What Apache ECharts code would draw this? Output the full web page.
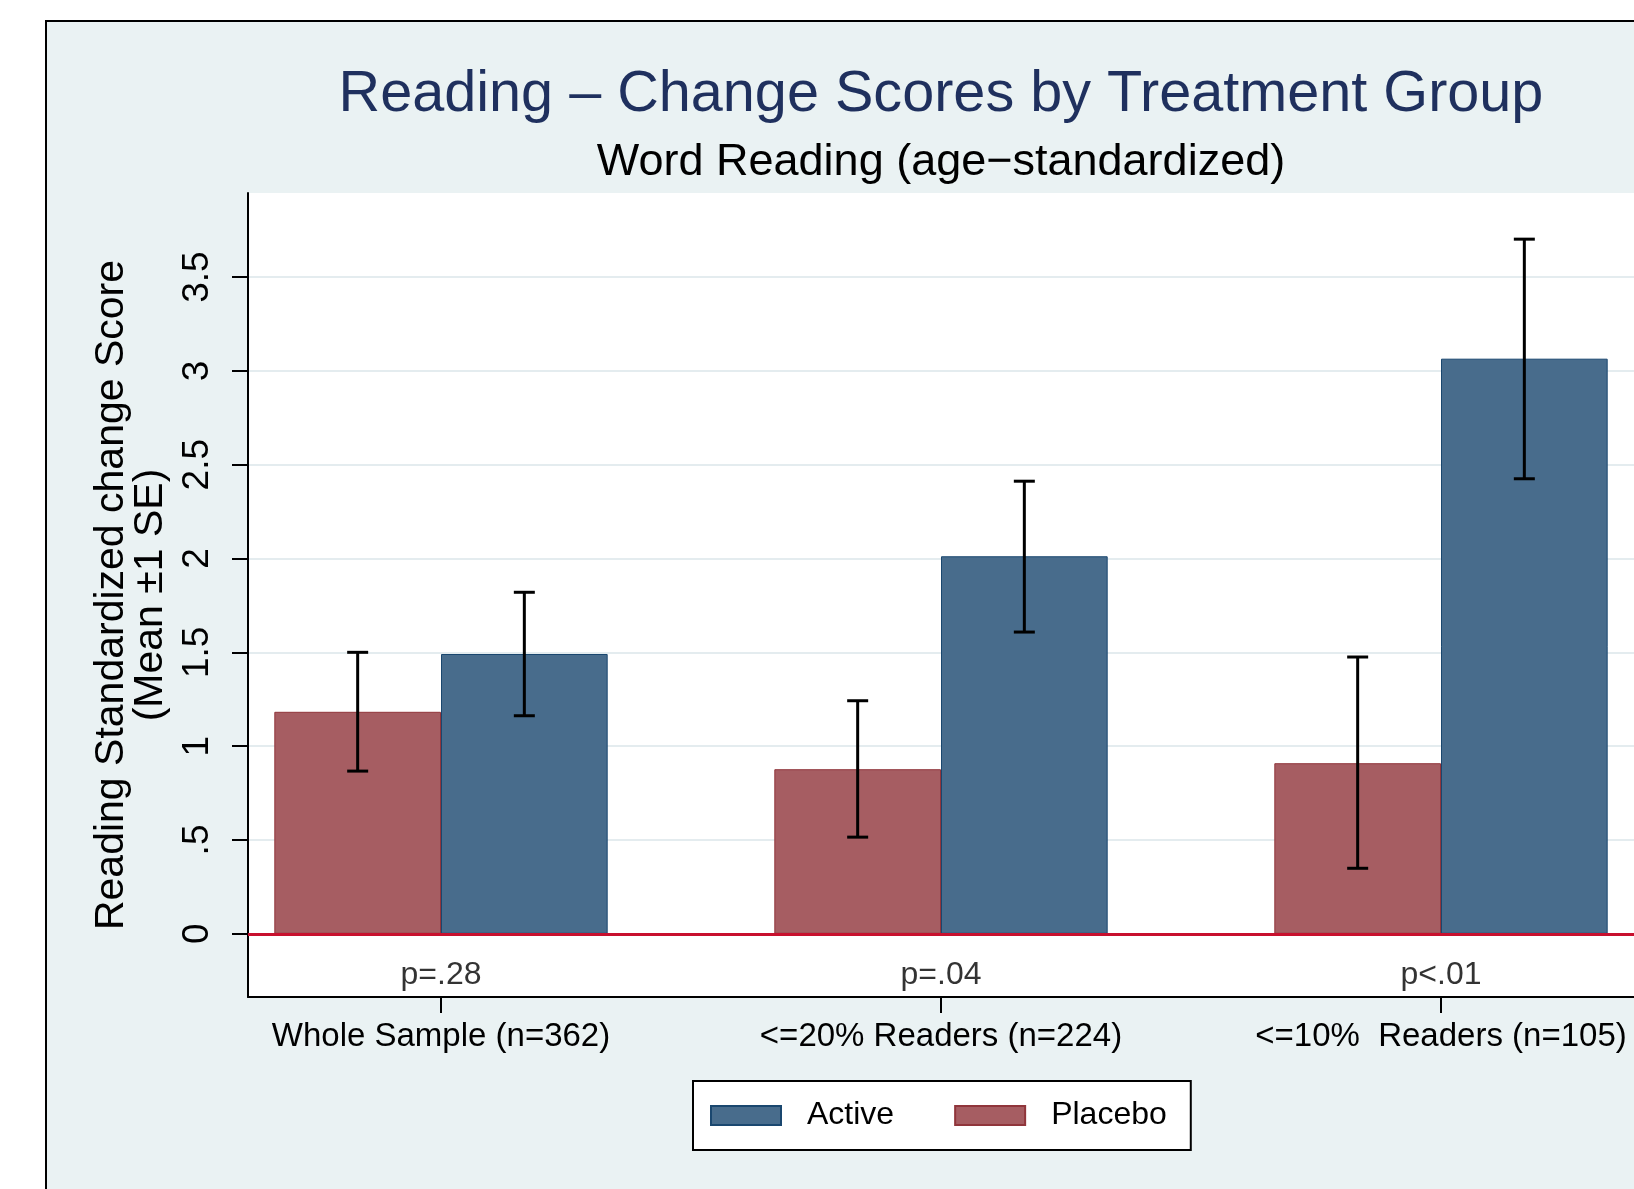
<!DOCTYPE html>
<html>
<head>
<meta charset="utf-8">
<title>Reading – Change Scores by Treatment Group</title>
<script src="https://cdn.jsdelivr.net/npm/echarts@6/dist/echarts.min.js"></script>
<style>
  html, body { margin: 0; padding: 0; background: #fff; }
  #chart { width: 1634px; height: 1189px; }
</style>
</head>
<body>
<div id="chart"></div>
<script>
// Chart data
const categories = ["Whole Sample (n=362)", "<=20% Readers (n=224)", "<=10%  Readers (n=105)"];
const pLabels = ["p=.28", "p=.04", "p<.01"];

const placeboMean = [1.183, 0.877, 0.909];
const placeboLow = [0.867, 0.515, 0.349];
const placeboHigh = [1.500, 1.242, 1.475];

const activeMean = [1.491, 2.012, 3.065];
const activeLow = [1.162, 1.608, 2.425];
const activeHigh = [1.820, 2.412, 3.702];

const yTicks = [0, 0.5, 1, 1.5, 2, 2.5, 3, 3.5];

// Layout / style constants
const FONT = "'Liberation Sans', Arial, Helvetica, sans-serif";
const ACTIVE_FILL = "#486c8c";
const ACTIVE_LINE = "#1a476f";
const PLACEBO_FILL = "#a65d62";
const PLACEBO_LINE = "#90353b";
const CATEGORY_GAP = 1 / 3;
const P_LABEL_Y = -0.22;

const chart = echarts.init(document.getElementById("chart"), null, { renderer: "canvas" });
const catIdx = categories.map((_, i) => i);

// I-shaped error bar, shifted onto the left (-1) or right (+1) bar of a group
function errorBar(side) {
  return function (params, api) {
    const x = api.value(0);
    const lo = api.coord([x, api.value(1)]);
    const hi = api.coord([x, api.value(2)]);
    const unit = api.size([1, 0])[0];
    const barW = (unit * (1 - CATEGORY_GAP)) / 2;
    const cx = lo[0] + (side * barW) / 2;
    const cap = 10.5;
    const style = { stroke: "#000", lineWidth: 3 };
    return {
      type: "group",
      children: [
        { type: "line", shape: { x1: cx, y1: lo[1], x2: cx, y2: hi[1] }, style },
        { type: "line", shape: { x1: cx - cap, y1: hi[1], x2: cx + cap, y2: hi[1] }, style },
        { type: "line", shape: { x1: cx - cap, y1: lo[1], x2: cx + cap, y2: lo[1] }, style },
      ],
    };
  };
}

const option = {
  animation: false,
  backgroundColor: "#ffffff",
  textStyle: { fontFamily: FONT },
  graphic: [
    {
      type: "rect",
      z: -5,
      shape: { x: 46, y: 21, width: 2000, height: 2000 },
      style: { fill: "#eaf2f3", stroke: "#000", lineWidth: 2 },
    },
    {
      type: "text",
      x: 941,
      y: 95,
      style: {
        text: "Reading – Change Scores by Treatment Group",
        font: "57.6px " + FONT,
        fill: "#1f305e",
        align: "center",
        verticalAlign: "middle",
      },
    },
    {
      type: "text",
      x: 941,
      y: 163,
      style: {
        text: "Word Reading (age−standardized)",
        font: "45px " + FONT,
        fill: "#000",
        align: "center",
        verticalAlign: "middle",
      },
    },
  ],
  grid: {
    left: 248,
    right: 0,
    top: 193,
    bottom: 192,
    show: true,
    backgroundColor: "#ffffff",
    borderWidth: 0,
  },
  legend: {
    data: ["Active", "Placebo"],
    left: 693,
    top: 1081,
    orient: "horizontal",
    icon: "rect",
    itemWidth: 70,
    itemHeight: 19,
    itemGap: 60,
    padding: [15, 24, 15, 17],
    backgroundColor: "#ffffff",
    borderColor: "#000",
    borderWidth: 2,
    borderRadius: 0,
    selectedMode: false,
    textStyle: {
      fontSize: 32,
      lineHeight: 33,
      color: "#000",
      fontFamily: FONT,
      padding: [6, 0, 0, 21],
    },
  },
  xAxis: {
    type: "value",
    min: -0.386,
    max: 2.386,
    axisLine: { show: true, onZero: false, lineStyle: { color: "#000", width: 2 } },
    axisTick: { show: true, length: 16, customValues: catIdx, lineStyle: { color: "#000", width: 2 } },
    axisLabel: {
      customValues: catIdx,
      formatter: (v) => categories[Math.round(v)],
      margin: 23,
      fontSize: 33,
      lineHeight: 33,
      color: "#000",
      fontFamily: FONT,
    },
    splitLine: { show: false },
  },
  yAxis: {
    type: "value",
    min: -0.337,
    max: 3.948,
    name: "Reading Standardized change Score\n(Mean ±1 SE)",
    nameLocation: "middle",
    nameGap: 64,
    nameTextStyle: { fontSize: 41, lineHeight: 39, color: "#000", fontFamily: FONT },
    axisLine: { show: true, onZero: false, lineStyle: { color: "#000", width: 2 } },
    axisTick: { show: true, length: 16, customValues: yTicks, lineStyle: { color: "#000", width: 2 } },
    axisLabel: {
      customValues: yTicks,
      rotate: 90,
      margin: 32,
      fontSize: 37,
      lineHeight: 37,
      color: "#000",
      fontFamily: FONT,
      formatter: (v) => (v === 0 ? "0" : String(v).replace(/^0\./, ".")),
    },
    splitLine: { show: true, lineStyle: { color: "#e4ecef", width: 2 } },
  },
  series: [
    {
      name: "Placebo",
      type: "bar",
      barGap: "0%",
      barCategoryGap: "33.33%",
      data: placeboMean.map((v, i) => [i, v]),
      itemStyle: { color: PLACEBO_FILL, borderColor: PLACEBO_LINE, borderWidth: 1 },
    },
    {
      name: "Active",
      type: "bar",
      barGap: "0%",
      barCategoryGap: "33.33%",
      data: activeMean.map((v, i) => [i, v]),
      itemStyle: { color: ACTIVE_FILL, borderColor: ACTIVE_LINE, borderWidth: 1 },
      markLine: {
        silent: true,
        symbol: ["none", "none"],
        label: { show: false },
        lineStyle: { color: "#c8102e", width: 3, type: "solid" },
        data: [{ yAxis: 0 }],
      },
    },
    {
      name: "Placebo SE",
      type: "custom",
      z: 5,
      renderItem: errorBar(-1),
      encode: { x: 0, y: [1, 2] },
      data: placeboLow.map((lo, i) => [i, lo, placeboHigh[i]]),
    },
    {
      name: "Active SE",
      type: "custom",
      z: 5,
      renderItem: errorBar(1),
      encode: { x: 0, y: [1, 2] },
      data: activeLow.map((lo, i) => [i, lo, activeHigh[i]]),
    },
    {
      name: "p values",
      type: "scatter",
      symbolSize: 0,
      silent: true,
      data: catIdx.map((i) => [i, P_LABEL_Y]),
      label: {
        show: true,
        position: "inside",
        formatter: (p) => pLabels[p.dataIndex],
        fontSize: 32,
        color: "#000",
        fontFamily: FONT,
      },
    },
  ],
};

chart.setOption(option);
window.addEventListener("resize", () => chart.resize());
</script>
</body>
</html>
